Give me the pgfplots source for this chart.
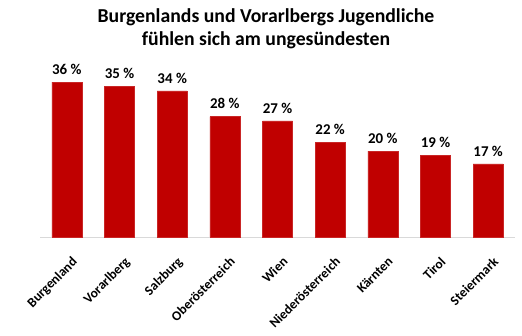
\documentclass[border=0pt]{standalone}
\usepackage{pgfplots}
\pgfplotsset{compat=1.18}
\usepackage{fontspec}
\setmainfont{Carlito}
\definecolor{barred}{HTML}{C00000}
\begin{document}
\begin{tikzpicture}[x=1bp,y=1bp]
\path[use as bounding box] (0,0) rectangle (522,335);
\node[font=\bfseries\fontsize{19.8}{23}\selectfont, align=center, anchor=north] at (266,330) {Burgenlands und Vorarlbergs Jugendliche\\fühlen sich am ungesündesten};
\begin{axis}[
  at={(40bp,98bp)}, anchor=south west,
  scale only axis, width=475bp, height=172bp,
  xmin=-0.51, xmax=8.51, ymin=0, ymax=40,
  axis x line=bottom, hide y axis,
  x axis line style={draw=black!15, line width=0.8pt, -},
  xtick=data, xtick style={draw=none},
  /pgf/number format/assume math mode=true,
  xticklabels={Burgenland,Vorarlberg,Salzburg,Oberösterreich,Wien,Niederösterreich,Kärnten,Tirol,Steiermark},
  xticklabel style={rotate=45, anchor=north east, font=\bfseries\fontsize{13.5}{15}\selectfont, xshift=-4bp, yshift=-10bp},
  ybar, bar width=30bp,
  nodes near coords={\pgfmathprintnumber{\pgfplotspointmeta}~\%},
  nodes near coords style={font=\bfseries\fontsize{15}{17}\selectfont, black, yshift=4bp},
]
\addplot[fill=barred, draw=barred!85!white] coordinates {(0,36) (1,35) (2,34) (3,28) (4,27) (5,22) (6,20) (7,19) (8,17)};
\end{axis}
\end{tikzpicture}
\end{document}
